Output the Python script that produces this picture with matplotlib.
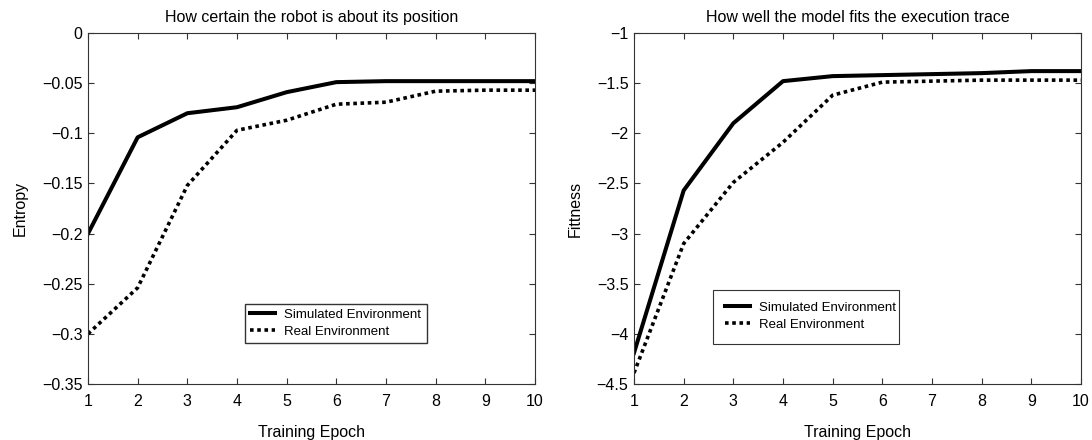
import matplotlib
matplotlib.use('Agg')
import matplotlib.pyplot as plt
from matplotlib.patches import Rectangle

plt.rcParams['font.family'] = ['Liberation Sans', 'DejaVu Sans']

epochs = [1, 2, 3, 4, 5, 6, 7, 8, 9, 10]
entropy_sim = [-0.200, -0.104, -0.080, -0.074, -0.059, -0.049, -0.048, -0.048, -0.048, -0.048]
entropy_real = [-0.300, -0.254, -0.152, -0.097, -0.087, -0.071, -0.069, -0.058, -0.057, -0.057]
fitness_sim = [-4.19, -2.57, -1.90, -1.48, -1.43, -1.42, -1.41, -1.40, -1.38, -1.38]
fitness_real = [-4.39, -3.10, -2.49, -2.09, -1.62, -1.49, -1.48, -1.47, -1.47, -1.47]

entropy_ticks = [-0.35, -0.3, -0.25, -0.2, -0.15, -0.1, -0.05, 0]
entropy_labels = ['\u22120.35', '\u22120.3', '\u22120.25', '\u22120.2', '\u22120.15', '\u22120.1', '\u22120.05', '0']
fitness_ticks = [-4.5, -4, -3.5, -3, -2.5, -2, -1.5, -1]
fitness_labels = ['\u22124.5', '\u22124', '\u22123.5', '\u22123', '\u22122.5', '\u22122', '\u22121.5', '\u22121']

fig = plt.figure(figsize=(10.92, 4.4), dpi=100)
ax1 = fig.add_axes([88 / 1092, 56 / 440, 447 / 1092, 351 / 440])
ax2 = fig.add_axes([634 / 1092, 56 / 440, 447 / 1092, 351 / 440])

def style(ax):
    ax.tick_params(direction='in', top=True, right=True, length=4, labelsize=11.5,
                   color='#333333', pad=4)
    ax.tick_params(axis='x', pad=7)
    for s in ax.spines.values():
        s.set_linewidth(0.8)
        s.set_color('#333333')
    ax.set_xlim(1, 10)
    ax.set_xticks(epochs)
    ax.set_xlabel('Training Epoch', fontsize=11.5, labelpad=12)

def draw(ax, sim, real):
    ax.plot(epochs, sim, 'k-', linewidth=2.9, label='Simulated Environment')
    ax.plot(epochs, real, color='k', linestyle=(0, (1, 1)), linewidth=2.6, label='Real Environment')

leg_kw = dict(fontsize=9.5, fancybox=False, edgecolor='#333333', framealpha=1,
              handlelength=1.9, borderpad=0.4, labelspacing=0.35, handletextpad=0.7)

draw(ax1, entropy_sim, entropy_real)
style(ax1)
ax1.set_ylim(-0.35, 0)
ax1.set_yticks(entropy_ticks)
ax1.set_yticklabels(entropy_labels)
ax1.set_ylabel('Entropy', fontsize=11.5, labelpad=10)
ax1.set_title('How certain the robot is about its position', fontsize=11.5, pad=8)
ax1.legend(loc='upper left', bbox_to_anchor=(0.336, 0.248), **leg_kw)

draw(ax2, fitness_sim, fitness_real)
style(ax2)
ax2.set_ylim(-4.5, -1)
ax2.set_yticks(fitness_ticks)
ax2.set_yticklabels(fitness_labels)
ax2.set_ylabel('Fittness', fontsize=11.5, labelpad=10)
ax2.set_title('How well the model fits the execution trace', fontsize=11.5, pad=8)
ax2.add_patch(Rectangle((0.177, 0.114), 0.416, 0.154, transform=ax2.transAxes,
                        facecolor='white', edgecolor='#333333', linewidth=0.8, zorder=4))
ax2.legend(loc='upper left', bbox_to_anchor=(0.177, 0.268), frameon=False, **leg_kw).set_zorder(5)

fig.savefig('out.png', dpi=100)
